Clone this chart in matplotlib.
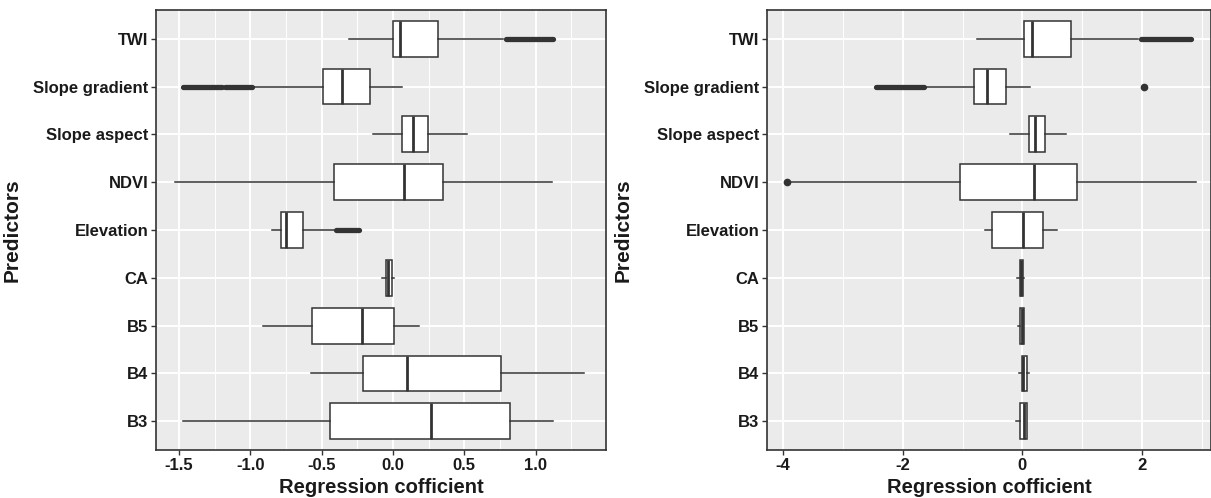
import numpy as np
import matplotlib.pyplot as plt
from matplotlib.ticker import MultipleLocator

plt.rcParams['font.family'] = ['Liberation Sans', 'DejaVu Sans']
plt.rcParams['font.weight'] = 'bold'
plt.rcParams['axes.unicode_minus'] = False

# predictors from bottom to top
predictors = ['B3', 'B4', 'B5', 'CA', 'Elevation', 'NDVI',
              'Slope aspect', 'Slope gradient', 'TWI']

# left panel box statistics (lower whisker, Q1, median, Q3, upper whisker)
left_whislo = [-1.470, -0.573, -0.908, -0.073, -0.849, -1.524, -0.140, -0.970, -0.309]
left_q1 = [-0.441, -0.207, -0.565, -0.051, -0.785, -0.411, 0.064, -0.492, 0.000]
left_med = [0.266, 0.099, -0.218, -0.032, -0.750, 0.075, 0.142, -0.355, 0.051]
left_q3 = [0.817, 0.760, 0.008, -0.008, -0.629, 0.349, 0.247, -0.161, 0.314]
left_whishi = [1.124, 1.336, 0.183, 0.008, -0.414, 1.118, 0.518, 0.067, 0.774]
# dense outlier runs: (predictor, start, end)
left_runs = [('TWI', 0.79, 1.12), ('Slope gradient', -1.47, -1.20),
             ('Slope gradient', -1.18, -0.99), ('Elevation', -0.40, -0.24)]
left_points = []

# right panel
right_whislo = [-0.110, -0.050, -0.075, -0.090, -0.620, -3.880, -0.200, -1.600, -0.764]
right_q1 = [-0.030, 0.000, -0.045, -0.045, -0.500, -1.040, 0.109, -0.814, 0.025]
right_med = [0.030, 0.020, -0.010, -0.020, 0.007, 0.198, 0.218, -0.590, 0.159]
right_q3 = [0.077, 0.077, 0.025, 0.018, 0.340, 0.910, 0.372, -0.270, 0.807]
right_whishi = [0.085, 0.120, 0.030, 0.030, 0.576, 2.900, 0.730, 0.127, 1.930]
right_runs = [('TWI', 1.98, 2.83), ('Slope gradient', -2.44, -1.65)]
right_points = [('Slope gradient', 2.04), ('NDVI', -3.94)]

EDGE = '#333333'


def draw_panel(ax, whislo, q1, med, q3, whishi, runs, points, xlim, major, minor):
    stats = []
    for i in range(len(predictors)):
        stats.append({'whislo': whislo[i], 'q1': q1[i], 'med': med[i],
                      'q3': q3[i], 'whishi': whishi[i], 'fliers': []})
    pos = np.arange(1, len(predictors) + 1)
    ax.bxp(stats, positions=pos, vert=False, widths=0.75, patch_artist=True,
           showcaps=False, showfliers=False,
           boxprops=dict(facecolor='white', edgecolor=EDGE, linewidth=1.1),
           medianprops=dict(color=EDGE, linewidth=2.0),
           whiskerprops=dict(color=EDGE, linewidth=1.1), zorder=3)
    for name, start, end in runs:
        y = predictors.index(name) + 1
        ax.plot([start, end], [y, y], color=EDGE, lw=3.8,
                solid_capstyle='round', zorder=4)
    for name, x in points:
        y = predictors.index(name) + 1
        ax.plot(x, y, 'o', color=EDGE, ms=4.5, zorder=4)

    ax.set_facecolor('#EBEBEB')
    ax.set_xlim(*xlim)
    ax.set_ylim(0.4, len(predictors) + 0.6)
    ax.xaxis.set_major_locator(MultipleLocator(major))
    ax.xaxis.set_minor_locator(MultipleLocator(minor))
    ax.set_yticks(pos)
    ax.set_yticklabels(predictors)
    ax.grid(which='major', color='white', lw=1.4, zorder=0)
    ax.grid(which='minor', axis='x', color='white', lw=0.7, zorder=0)
    ax.set_axisbelow(True)
    ax.tick_params(axis='both', which='major', length=3.5, width=1, color=EDGE,
                   labelsize=12, labelcolor='#1a1a1a', pad=2)
    ax.tick_params(axis='x', which='minor', length=0)
    for s in ax.spines.values():
        s.set_color(EDGE)
        s.set_linewidth(1.2)
    ax.set_xlabel('Regression cofficient', fontsize=14.5, fontweight='bold',
                  labelpad=4, color='#1a1a1a')
    ax.set_ylabel('Predictors', fontsize=15, fontweight='bold', labelpad=8,
                  color='#1a1a1a')


fig = plt.figure(figsize=(12.11, 4.98), dpi=100)
ax1 = fig.add_axes([0.1287, 0.0964, 0.3717, 0.8835])
ax2 = fig.add_axes([0.6334, 0.0964, 0.3670, 0.8835])

draw_panel(ax1, left_whislo, left_q1, left_med, left_q3, left_whishi,
           left_runs, left_points, (-1.661, 1.493), 0.5, 0.25)
draw_panel(ax2, right_whislo, right_q1, right_med, right_q3, right_whishi,
           right_runs, right_points, (-4.27, 3.165), 2, 1)

ax1.xaxis.set_major_formatter(plt.FuncFormatter(lambda v, p: f'{v:.1f}'))
ax2.xaxis.set_major_formatter(plt.FuncFormatter(lambda v, p: f'{v:.0f}'))

fig.savefig('out.png', dpi=100)
